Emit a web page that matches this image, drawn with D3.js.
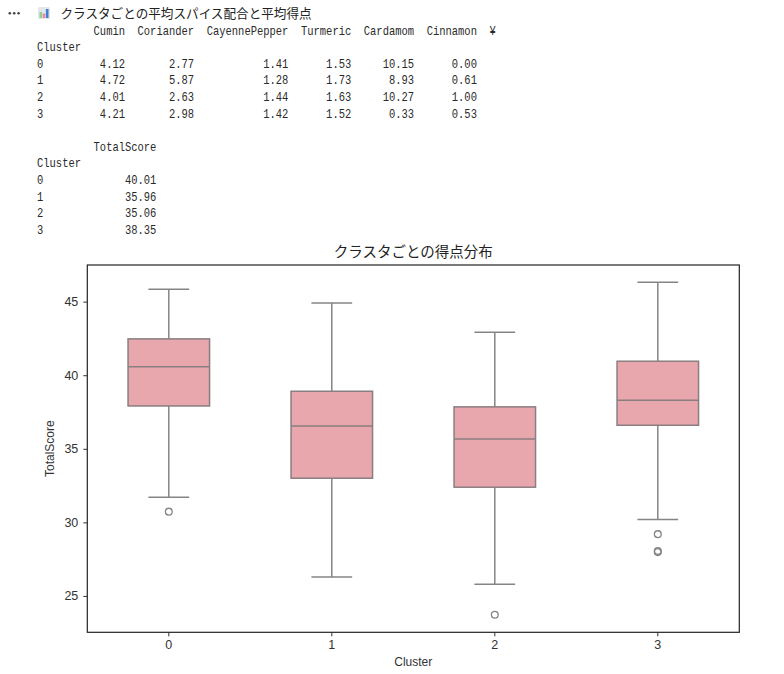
<!DOCTYPE html>
<html>
<head>
<meta charset="utf-8">
<script src="https://cdn.jsdelivr.net/npm/d3@7"></script>
<style>
  body { margin: 0; background: #fff; }
  svg { display: block; }
  .mono { font-family: "Liberation Mono", "DejaVu Sans Mono", monospace; font-size: 13px; fill: #2a2a2a; white-space: pre; }
</style>
</head>
<body>
<div id="viz"></div>
<script>
// table data (pandas output above the chart)
var clusters = ['0', '1', '2', '3'];
var spices = ['Cumin', 'Coriander', 'CayennePepper', 'Turmeric', 'Cardamom', 'Cinnamon'];
var cumin = [4.12, 4.72, 4.01, 4.21];
var coriander = [2.77, 5.87, 2.63, 2.98];
var cayenne = [1.41, 1.28, 1.44, 1.42];
var turmeric = [1.53, 1.73, 1.63, 1.52];
var cardamom = [10.15, 8.93, 10.27, 0.33];
var cinnamon = [0.00, 0.61, 1.00, 0.53];
var totalScoreMean = [40.01, 35.96, 35.06, 38.35];

// box plot stats
var whiskerLow = [31.71, 26.28, 25.80, 30.19];
var q1 = [37.91, 33.00, 32.39, 36.60];
var median = [40.58, 36.55, 35.67, 38.30];
var q3 = [42.47, 38.91, 37.85, 40.95];
var whiskerHigh = [45.84, 44.91, 42.92, 46.32];
var outliers = [[30.73], [], [23.72], [29.20, 28.05, 27.98]];
var yTicks = [25, 30, 35, 40, 45];

var width = 784, height = 674;
var plot = {left: 87.3, right: 739.3, top: 265, bottom: 632.3};

var svg = d3.select('#viz').append('svg')
  .attr('width', width)
  .attr('height', height);

// header: dots, icon, title
svg.selectAll('circle.dot').data([9.8, 14.2, 18.6])
  .enter().append('circle')
    .attr('class', 'dot')
    .attr('cx', function(d) { return d; })
    .attr('cy', 13.3)
    .attr('r', 1.3)
    .style('fill', '#444');

var icon = svg.append('g').attr('transform', 'translate(38,7)');
icon.append('rect').attr('width', 12).attr('height', 12).attr('rx', 1.5).style('fill', '#e4e6ea');
icon.append('rect').attr('x', 1.5).attr('y', 5).attr('width', 2.6).attr('height', 6).style('fill', '#8fd18a');
icon.append('rect').attr('x', 4.7).attr('y', 6.5).attr('width', 2.6).attr('height', 4.5).style('fill', '#e98aa8');
icon.append('rect').attr('x', 7.9).attr('y', 2).attr('width', 2.6).attr('height', 9).style('fill', '#3f7fd6');

svg.append('text')
  .attr('x', 60.5).attr('y', 17.8)
  .style('font-family', '"Noto Sans CJK JP", sans-serif')
  .style('font-size', '12.6px')
  .style('fill', '#222')
  .text('クラスタごとの平均スパイス配合と平均得点');

// pandas style text tables
function fmt(v) { return v.toFixed(2); }
var cols = [cumin, coriander, cayenne, turmeric, cardamom, cinnamon];
var lines = [];
lines.push('       ' + spices.map(function(s) { return '  ' + s; }).join('') + '  ¥');
lines.push('Cluster');
clusters.forEach(function(c, i) {
  var row = c.padEnd(7);
  spices.forEach(function(s, j) {
    row += '  ' + fmt(cols[j][i]).padStart(s.length);
  });
  lines.push(row);
});
lines.push('');
lines.push('         TotalScore');
lines.push('Cluster');
clusters.forEach(function(c, i) {
  lines.push(c.padEnd(7) + '  ' + fmt(totalScoreMean[i]).padStart(10));
});

var charW = 6.29, monoW = 13 * 0.6;
svg.append('g')
  .attr('transform', 'translate(37,0) scale(' + (charW / monoW) + ',1)')
  .selectAll('text').data(lines)
  .enter().append('text')
    .attr('class', 'mono')
    .attr('x', 0)
    .attr('y', function(d, i) { return 34.6 + i * 16.6; })
    .text(function(d) { return d; });

// chart
var xScale = d3.scaleBand()
  .domain(clusters)
  .range([plot.left, plot.right])
  .padding(0);

var yScale = d3.scaleLinear()
  .domain([22.53, 47.49])
  .range([plot.bottom, plot.top]);

var boxW = xScale.bandwidth() * 0.5;
var capW = boxW * 0.5;
var lineCol = '#858585';

var boxes = svg.selectAll('g.box').data(clusters)
  .enter().append('g')
    .attr('class', 'box')
    .attr('transform', function(d) { return 'translate(' + (xScale(d) + xScale.bandwidth() / 2) + ',0)'; });

// whiskers
boxes.append('line')
  .attr('x1', 0).attr('x2', 0)
  .attr('y1', function(d, i) { return yScale(whiskerHigh[i]); })
  .attr('y2', function(d, i) { return yScale(q3[i]); })
  .style('stroke', lineCol).style('stroke-width', 1.5);
boxes.append('line')
  .attr('x1', 0).attr('x2', 0)
  .attr('y1', function(d, i) { return yScale(q1[i]); })
  .attr('y2', function(d, i) { return yScale(whiskerLow[i]); })
  .style('stroke', lineCol).style('stroke-width', 1.5);
boxes.append('line')
  .attr('x1', -capW / 2).attr('x2', capW / 2)
  .attr('y1', function(d, i) { return yScale(whiskerHigh[i]); })
  .attr('y2', function(d, i) { return yScale(whiskerHigh[i]); })
  .style('stroke', lineCol).style('stroke-width', 1.5);
boxes.append('line')
  .attr('x1', -capW / 2).attr('x2', capW / 2)
  .attr('y1', function(d, i) { return yScale(whiskerLow[i]); })
  .attr('y2', function(d, i) { return yScale(whiskerLow[i]); })
  .style('stroke', lineCol).style('stroke-width', 1.5);

boxes.append('rect')
  .attr('x', -boxW / 2)
  .attr('width', boxW)
  .attr('y', function(d, i) { return yScale(q3[i]); })
  .attr('height', function(d, i) { return yScale(q1[i]) - yScale(q3[i]); })
  .style('fill', '#e8a6ad')
  .style('stroke', '#8a7e80')
  .style('stroke-width', 1.5);

boxes.append('line')
  .attr('x1', -boxW / 2).attr('x2', boxW / 2)
  .attr('y1', function(d, i) { return yScale(median[i]); })
  .attr('y2', function(d, i) { return yScale(median[i]); })
  .style('stroke', '#8a7e80').style('stroke-width', 1.5);

boxes.selectAll('circle.out')
  .data(function(d, i) { return outliers[i]; })
  .enter().append('circle')
    .attr('class', 'out')
    .attr('cx', 0)
    .attr('cy', function(d) { return yScale(d); })
    .attr('r', 3.4)
    .style('fill', 'none')
    .style('stroke', lineCol)
    .style('stroke-width', 1.3);

// frame
svg.append('rect')
  .attr('x', plot.left).attr('y', plot.top)
  .attr('width', plot.right - plot.left)
  .attr('height', plot.bottom - plot.top)
  .style('fill', 'none')
  .style('stroke', '#222')
  .style('stroke-width', 1.2);

var yAxis = svg.append('g')
  .attr('transform', 'translate(' + plot.left + ',0)')
  .call(d3.axisLeft(yScale).tickValues(yTicks).tickSize(4).tickPadding(5));
var xAxis = svg.append('g')
  .attr('transform', 'translate(0,' + plot.bottom + ')')
  .call(d3.axisBottom(xScale).tickSize(4).tickPadding(4));

[yAxis, xAxis].forEach(function(ax) {
  ax.select('.domain').remove();
  ax.selectAll('line').style('stroke', '#333');
  ax.selectAll('text')
    .style('font-family', '"Liberation Sans", Arial, sans-serif')
    .style('font-size', '12.5px')
    .style('fill', '#333');
});

// titles
svg.append('text')
  .attr('x', (plot.left + plot.right) / 2).attr('y', 257)
  .attr('text-anchor', 'middle')
  .style('font-family', '"Noto Sans CJK JP", sans-serif')
  .style('font-size', '14.5px')
  .style('fill', '#222')
  .text('クラスタごとの得点分布');

svg.append('text')
  .attr('x', (plot.left + plot.right) / 2).attr('y', 666)
  .attr('text-anchor', 'middle')
  .style('font-family', '"Liberation Sans", Arial, sans-serif')
  .style('font-size', '12px')
  .style('fill', '#333')
  .text('Cluster');

svg.append('text')
  .attr('transform', 'translate(54,' + ((plot.top + plot.bottom) / 2) + ') rotate(-90)')
  .attr('text-anchor', 'middle')
  .style('font-family', '"Liberation Sans", Arial, sans-serif')
  .style('font-size', '12px')
  .style('fill', '#333')
  .text('TotalScore');
</script>
</body>
</html>
